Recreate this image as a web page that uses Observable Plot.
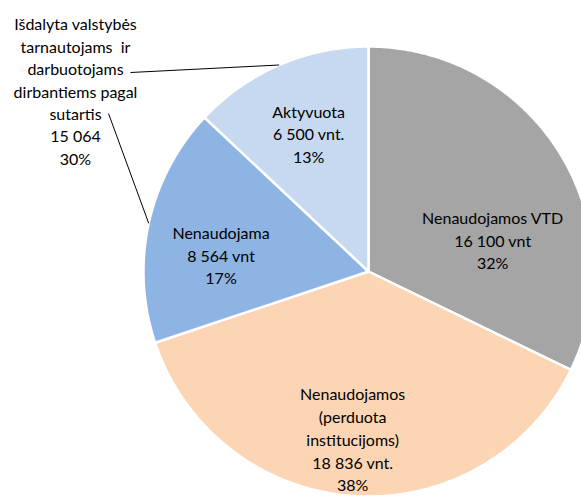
<!DOCTYPE html>
<html><head><meta charset="utf-8">
<script src="https://cdn.jsdelivr.net/npm/d3@7"></script>
<script src="https://cdn.jsdelivr.net/npm/@observablehq/plot@0.6"></script>
<style>
html,body{margin:0;padding:0;background:#fff;overflow:hidden}
#chart svg{display:block}
</style>
</head><body><div id="chart"></div>
<script>
// ---- data ----
const categories = ["Nenaudojamos VTD", "Nenaudojamos (perduota institucijoms)", "Nenaudojama", "Aktyvuota"];
const values = [16100, 18836, 8564, 6500];
const nameLines = ["Nenaudojamos VTD", "Nenaudojamos\n(perduota\ninstitucijoms)", "Nenaudojama", "Aktyvuota"];
const valueLabels = ["16 100 vnt", "18 836 vnt.", "8 564 vnt", "6 500 vnt."];
const percentLabels = ["32%", "38%", "17%", "13%"];
const colors = ["#a5a5a5", "#fcd5b5", "#8eb4e3", "#c6d9f1"];
const groupName = "Išdalyta valstybės\ntarnautojams  ir\ndarbuotojams\ndirbantiems pagal\nsutartis";
const groupValue = "15 064";
const groupPercent = "30%";
const groupMembers = ["Aktyvuota", "Nenaudojama"];

// ---- layout ----
const W = 581, H = 498, cx = 368, cy = 271, R = 225;
const labelAngleShift = [17.5, 1.7, -5.7, 0];   // degrees
const labelRadius = [0.57, 0.745, 0.66, 0.67];
const groupLabelPx = [75, 90];
const leaderStartPx = {"Aktyvuota": [130, 72], "Nenaudojama": [108, 113]};
const px2x = p => (p - cx) / R, px2y = p => (cy - p) / R;

// ---- geometry from data ----
const arcs = d3.pie().sort(null).value(d => d)(values);
const pts = [];
arcs.forEach((a, i) => {
  const n = Math.max(2, Math.ceil((a.endAngle - a.startAngle) / (Math.PI / 360)));
  pts.push({cat: categories[i], x: 0, y: 0});
  for (let k = 0; k <= n; k++) {
    const t = a.startAngle + (a.endAngle - a.startAngle) * k / n;
    pts.push({cat: categories[i], x: Math.sin(t), y: Math.cos(t)});
  }
});
const labels = arcs.map((a, i) => {
  const t = (a.startAngle + a.endAngle) / 2 + labelAngleShift[i] * Math.PI / 180;
  return {x: labelRadius[i] * Math.sin(t), y: labelRadius[i] * Math.cos(t),
          text: nameLines[i] + "\n" + valueLabels[i] + "\n" + percentLabels[i]};
});
const leaders = groupMembers.map(m => {
  const a = arcs[categories.indexOf(m)];
  const t = (a.startAngle + a.endAngle) / 2;
  const s = leaderStartPx[m];
  return {x1: px2x(s[0]), y1: px2y(s[1]), x2: Math.sin(t), y2: Math.cos(t)};
});
const groupLabel = [{x: px2x(groupLabelPx[0]), y: px2y(groupLabelPx[1]),
  text: groupName + "\n" + groupValue + "\n" + groupPercent}];

const chart = Plot.plot({
  width: W, height: H, margin: 0,
  style: {fontFamily: "Lato, sans-serif", background: "#fff"},
  x: {domain: [-1, 1], range: [cx - R, cx + R], axis: null},
  y: {domain: [-1, 1], range: [cy + R, cy - R], axis: null},
  color: {domain: categories, range: colors},
  marks: [
    Plot.line(pts, {x: "x", y: "y", z: "cat", fill: "cat", stroke: "white", strokeWidth: 2.5, curve: "linear-closed", clip: true}),
    Plot.link(leaders, {x1: "x1", y1: "y1", x2: "x2", y2: "y2", stroke: "#000", strokeWidth: 1}),
    Plot.text(labels, {x: "x", y: "y", text: "text", fontSize: 16, lineHeight: 1.43, fill: "#000"}),
    Plot.text(groupLabel, {x: "x", y: "y", text: "text", fontSize: 16, lineHeight: 1.4, fill: "#000"})
  ]
});
document.getElementById("chart").append(chart);
</script>
</body></html>
